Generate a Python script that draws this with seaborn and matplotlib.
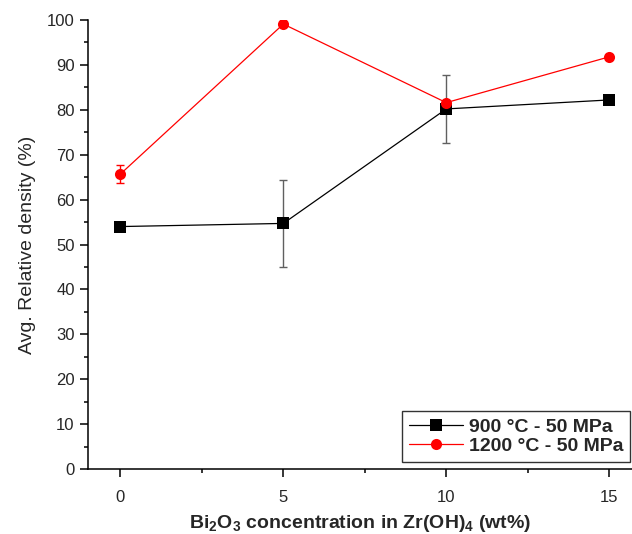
import numpy as np
import pandas as pd
import matplotlib
matplotlib.use('Agg')
import matplotlib.pyplot as plt
import seaborn as sns
from matplotlib.ticker import MultipleLocator

# --- Data ---
conc = [0, 5, 10, 15]
dens_900 = [54.0, 54.7, 80.2, 82.2]
err_900 = [0.0, 9.65, 7.6, 0.0]
dens_1200 = [65.7, 99.1, 81.6, 91.8]
err_1200 = [1.9, 0.0, 0.0, 0.0]
series_names = ['900 °C - 50 MPa', '1200 °C - 50 MPa']

df = pd.DataFrame({
    'conc': conc * 2,
    'density': dens_900 + dens_1200,
    'series': [series_names[0]] * 4 + [series_names[1]] * 4,
})

# --- Style ---
sns.set_style('ticks')
plt.rcParams['font.family'] = ['Liberation Sans', 'DejaVu Sans']
plt.rcParams['mathtext.fontset'] = 'custom'
plt.rcParams['mathtext.rm'] = 'Liberation Sans'
plt.rcParams['mathtext.bf'] = 'Liberation Sans:bold'

fig = plt.figure(figsize=(6.32, 5.34), dpi=100)
ax = fig.add_axes([0.139, 0.1217, 0.861, 0.8408])

# error bars first, markers on top
ax.errorbar(conc, dens_900, yerr=err_900, fmt='none', ecolor='#606060',
            elinewidth=1.0, capsize=3, capthick=1.0, zorder=1)
ax.errorbar(conc, dens_1200, yerr=err_1200, fmt='none', ecolor='red',
            elinewidth=1.0, capsize=3, capthick=1.0, zorder=1)

sns.lineplot(data=df, x='conc', y='density', hue='series', style='series',
             palette={series_names[0]: 'black', series_names[1]: 'red'},
             markers={series_names[0]: 's', series_names[1]: 'o'},
             dashes=False, linewidth=0.9, markersize=8, markeredgewidth=0,
             ax=ax, zorder=3)

ax.set_xlim(-1, 15.7)
ax.set_ylim(0, 100)
ax.xaxis.set_major_locator(MultipleLocator(5))
ax.xaxis.set_minor_locator(MultipleLocator(2.5))
ax.yaxis.set_major_locator(MultipleLocator(10))
ax.yaxis.set_minor_locator(MultipleLocator(5))
ax.tick_params(which='major', direction='out', length=6, width=1.1,
               labelsize=12, color='black')
ax.tick_params(which='minor', direction='out', length=3, width=1.1,
               color='black')
ax.tick_params(axis='x', pad=9)

for side in ['top', 'right']:
    ax.spines[side].set_visible(False)
for side in ['left', 'bottom']:
    ax.spines[side].set_linewidth(1.1)
    ax.spines[side].set_color('black')

ax.set_xlabel(r'Bi$_\mathbf{2}$O$_\mathbf{3}$ concentration in Zr(OH)$_\mathbf{4}$ (wt%)',
              fontsize=14, fontweight='bold', labelpad=6)
ax.set_ylabel('Avg. Relative density (%)', fontsize=14, labelpad=8)

leg = ax.legend(loc='lower right', bbox_to_anchor=(0.996, 0.0156),
                borderaxespad=0, frameon=True, fancybox=False,
                prop={'weight': 'bold', 'size': 14}, handlelength=2.75,
                handletextpad=0.3, borderpad=0.35, labelspacing=0.1)
leg.get_frame().set_edgecolor('black')
leg.get_frame().set_linewidth(1.0)

fig.savefig('out.png', dpi=100)
